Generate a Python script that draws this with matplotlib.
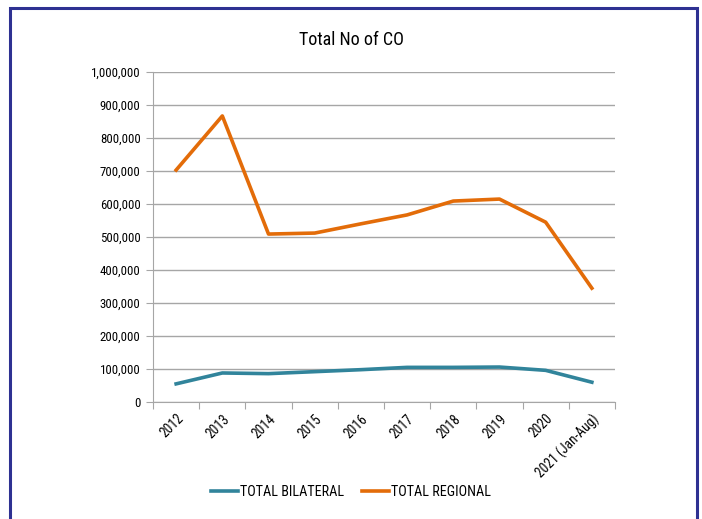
import matplotlib.pyplot as plt
import matplotlib.patches as mpatches
from matplotlib.ticker import FuncFormatter, FixedLocator
import matplotlib.font_manager as fm

# Datos
years = ['2012', '2013', '2014', '2015', '2016', '2017', '2018', '2019', '2020', '2021 (Jan-Aug)']
total_bilateral = [55000, 88000, 86000, 92000, 98000, 105000, 105000, 106000, 96000, 60000]
total_regional = [703000, 867000, 509000, 512000, 540000, 567000, 609000, 615000, 545000, 345000]

# Buscar una fuente condensada parecida a la original
names = {f.name for f in fm.fontManager.ttflist}
font = 'DejaVu Sans'
for cand in ['Roboto Condensed', 'Open Sans Condensed', 'Barlow Semi Condensed',
             'Archivo Narrow', 'Asap Condensed']:
    if cand in names:
        font = cand
        break
plt.rcParams['font.family'] = [font, 'DejaVu Sans']

fig = plt.figure(figsize=(7.02, 5.19), dpi=100)
ax = fig.add_axes([0.218, 0.2254, 0.658, 0.6358])

# Marco azul alrededor de la figura
fig.patches.append(mpatches.Rectangle((10 / 702, -0.05), 687 / 702, 1.05 - 8 / 519,
                                      transform=fig.transFigure, fill=False,
                                      edgecolor='#2E3192', linewidth=2.2))

x = list(range(len(years)))
ax.plot(x, total_bilateral, color='#31849B', linewidth=2.6, label='TOTAL BILATERAL')
ax.plot(x, total_regional, color='#E36C09', linewidth=2.6, label='TOTAL REGIONAL')

ax.set_xlim(-0.5, len(years) - 0.5)
ax.set_ylim(0, 1000000)
ax.set_yticks(range(0, 1000001, 100000))
ax.yaxis.set_major_formatter(FuncFormatter(lambda v, p: f'{int(v):,}'))
ax.grid(axis='y', color='#A6A6A6', linewidth=1)
ax.set_axisbelow(True)

ax.xaxis.set_major_locator(FixedLocator([i - 0.5 for i in range(len(years) + 1)]))
ax.xaxis.set_major_formatter(FuncFormatter(lambda v, p: ''))
ax.set_xticks(x, minor=True)
ax.set_xticklabels(years, minor=True, rotation=45, ha='right', rotation_mode='anchor',
                   fontsize=9.8)
ax.tick_params(axis='x', which='minor', length=0, pad=7)
ax.tick_params(axis='x', which='major', length=5, color='#A6A6A6')
ax.tick_params(axis='y', length=5, color='#A6A6A6', labelsize=9.3, pad=4)

for s in ['top', 'right']:
    ax.spines[s].set_visible(False)
ax.spines['left'].set_color('#A6A6A6')
ax.spines['bottom'].set_color('#A6A6A6')

fig.text(0.5, 0.923, 'Total No of CO', ha='center', va='center', fontsize=13)

fig.legend(loc='center', bbox_to_anchor=(0.5, 0.052), ncol=2, frameon=False,
           fontsize=10.2, handlelength=1.9, columnspacing=1.3, handletextpad=0.1)

plt.savefig('out.png', dpi=100)
plt.close()
